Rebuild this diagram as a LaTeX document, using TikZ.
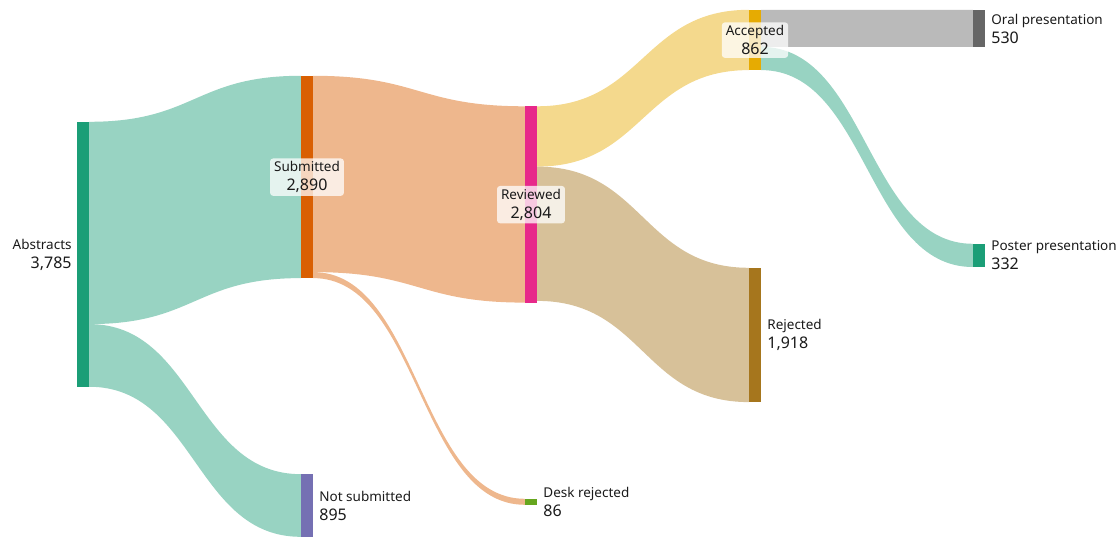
\documentclass[tikz,border=0pt]{standalone}
\usepackage{fontspec}
\setmainfont{Noto Sans}
\usetikzlibrary{calc, positioning}

\definecolor{cabs}{HTML}{1B9E77}
\definecolor{csub}{HTML}{D95F02}
\definecolor{cnot}{HTML}{7570B3}
\definecolor{crev}{HTML}{E7298A}
\definecolor{cdesk}{HTML}{66A61E}
\definecolor{cacc}{HTML}{E6AB02}
\definecolor{crej}{HTML}{A6761D}
\definecolor{coral}{HTML}{666666}
\definecolor{ctxt}{HTML}{1A1A1A}

% band from #1 (offset #2 below its top) to #3 (offset #4 below its top), width #5
\newcommand{\sankeyflow}[6]{%
  \path ($(#1.north east)+(0,#2)$) coordinate (fs1)
        ($(#1.north east)+(0,#2+#5)$) coordinate (fs2)
        ($(#3.north west)+(0,#4)$) coordinate (ft1)
        ($(#3.north west)+(0,#4+#5)$) coordinate (ft2)
        ($(fs1)!0.5!(ft1)$) coordinate (fm);
  \fill[#6] (fs1) .. controls (fm |- fs1) and (fm |- ft1) .. (ft1)
    -- (ft2) .. controls (fm |- ft2) and (fm |- fs2) .. (fs2) -- cycle;}
\newcommand{\sklabel}[2]{#1\\[1pt]{\fontsize{16}{18}\selectfont #2}}

\begin{document}
\begin{tikzpicture}[
  x=1pt, y=-1pt,
  bar/.style={rectangle, inner sep=0pt, minimum width=12pt, draw=none},
  lbl/.style={font=\fontsize{13.5}{18}\selectfont, text=ctxt},
  lblright/.style={lbl, anchor=west, align=left, inner sep=0pt},
  lblleft/.style={lbl, anchor=east, align=right, inner sep=0pt},
  lblmid/.style={lbl, align=center, fill=white, fill opacity=0.75, text opacity=1,
    rounded corners=3pt, inner xsep=4pt, inner ysep=3pt}
]
\useasboundingbox (0,0) rectangle (1120,537);

% ===== NODES =====
\node[bar, minimum height=265pt] (abs) at (83,254.5) {};
\node[bar, minimum height=202.3pt] (sub) at (307,177.15) {};
\node[bar, minimum height=62.65pt] (notsub) at (307,505.7) {};
\node[bar, minimum height=196.3pt] (rev) at (531,204.65) {};
\node[bar, minimum height=6pt] (desk) at (531,502) {};
\node[bar, minimum height=60.3pt] (acc) at (755,40.15) {};
\node[bar, minimum height=134.3pt] (rej) at (755,335.15) {};
\node[bar, minimum height=37.1pt] (oral) at (979,28.55) {};
\node[bar, minimum height=23.2pt] (poster) at (979,255.6) {};

% ===== FLOWS =====
\sankeyflow{abs}{0}{sub}{0}{202.3}{cabs!45}
\sankeyflow{abs}{202.3}{notsub}{0}{62.65}{cabs!45}
\sankeyflow{sub}{0}{rev}{0}{196.3}{csub!45}
\sankeyflow{sub}{196.3}{desk}{0}{6}{csub!45}
\sankeyflow{rev}{0}{acc}{0}{60.3}{cacc!45}
\sankeyflow{rev}{60.3}{rej}{0}{134.3}{crej!45}
\sankeyflow{acc}{0}{oral}{0}{37.1}{coral!45}
\sankeyflow{acc}{37.1}{poster}{0}{23.2}{cabs!45}

% bars on top of the bands
\foreach \n/\c in {abs/cabs, sub/csub, notsub/cnot, rev/crev, desk/cdesk,
                   acc/cacc, rej/crej, oral/coral, poster/cabs}
  \fill[\c] (\n.north west) rectangle (\n.south east);

% ===== LABELS =====
\node[lblleft, left=5pt of abs] (abs-lbl) {\sklabel{Abstracts}{3,785}};
\node[lblmid] (sub-lbl) at (sub) {\sklabel{Submitted}{2,890}};
\node[lblmid] (rev-lbl) at (rev) {\sklabel{Reviewed}{2,804}};
\node[lblmid] (acc-lbl) at (acc) {\sklabel{Accepted}{862}};
\node[lblright, right=6pt of notsub] (notsub-lbl) {\sklabel{Not submitted}{895}};
\node[lblright, right=6pt of desk] (desk-lbl) {\sklabel{Desk rejected}{86}};
\node[lblright, right=6pt of rej] (rej-lbl) {\sklabel{Rejected}{1,918}};
\node[lblright, right=6pt of oral] (oral-lbl) {\sklabel{Oral presentation}{530}};
\node[lblright, right=6pt of poster] (poster-lbl) {\sklabel{Poster presentation}{332}};
\end{tikzpicture}
\end{document}
